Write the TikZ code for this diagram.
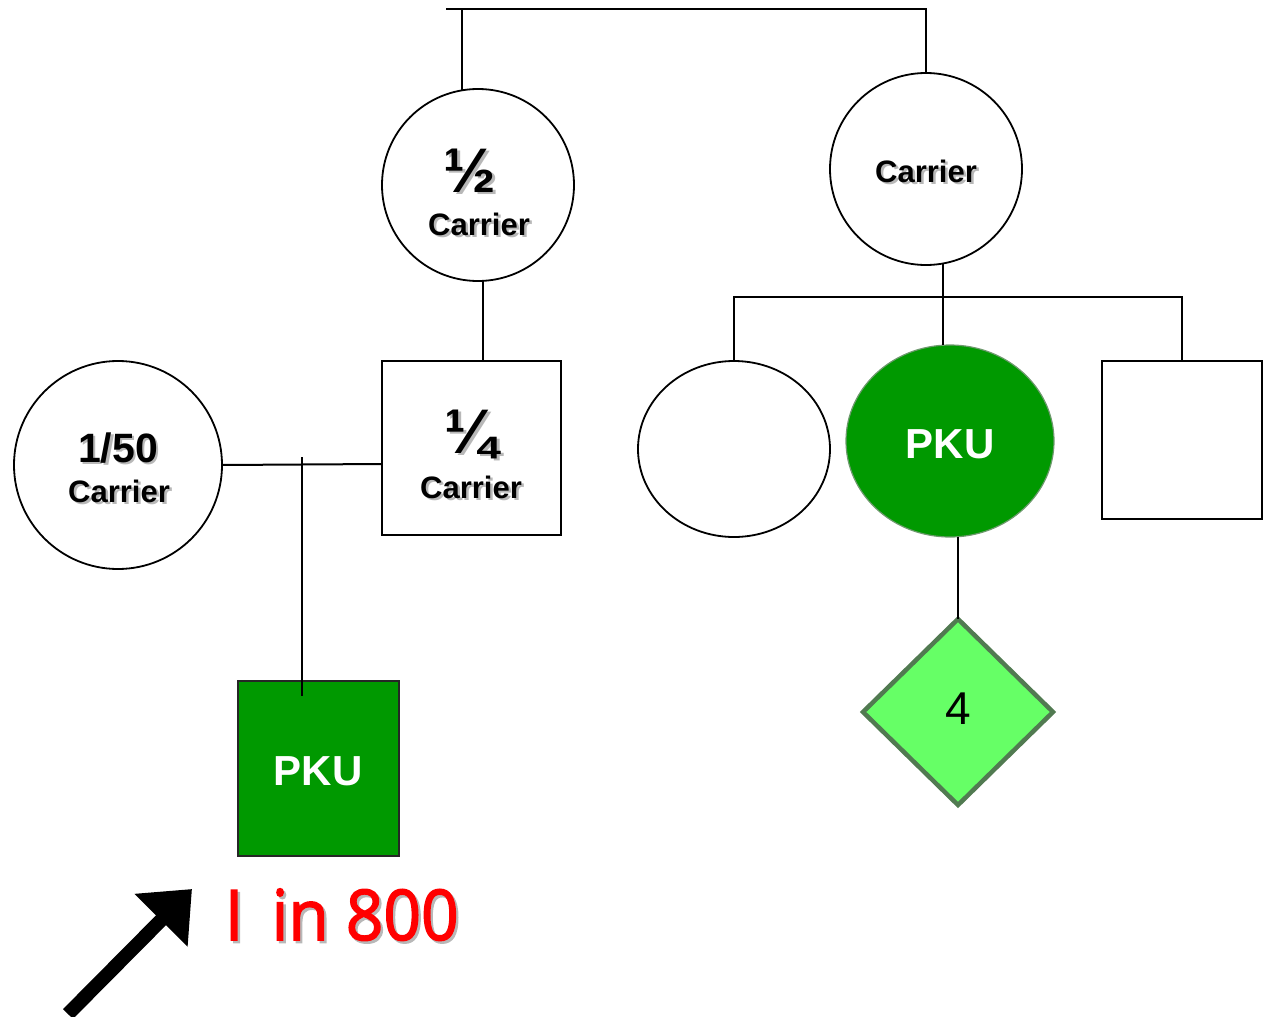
\documentclass[tikz,border=0pt]{standalone}
\usepackage{graphicx}
\usepackage{fontspec}
\setmainfont{Liberation Sans}
\newfontfamily\redfont{Open Sans}[FakeBold=2.2]
\usetikzlibrary{shapes.geometric,arrows.meta}
\definecolor{pkugreen}{HTML}{009900}
\definecolor{litegreen}{HTML}{66FF66}
\definecolor{dmdedge}{HTML}{517A51}
\definecolor{elledge}{HTML}{6E9A6E}
\newcommand\shadowed[1]{\makebox[0pt][l]{\hspace{2.5pt}\raisebox{-2.5pt}{\textcolor{black!28}{#1}}}#1}
\begin{document}
\begin{tikzpicture}[x=1pt,y=-1pt,line width=2pt,
  person/.style={draw=black,fill=white,inner sep=0pt,outer sep=0pt,line width=1.8pt},
  lbl/.style={anchor=base,inner sep=0pt,outer sep=0pt},
  fraclbl/.style={lbl,font=\bfseries\fontsize{63}{63}\selectfont},
  carrlbl/.style={lbl,font=\bfseries\fontsize{31}{31}\selectfont},
  pkulbl/.style={lbl,text=white,font=\bfseries\fontsize{42}{42}\selectfont}]
\useasboundingbox (0,0) rectangle (1264,1017);
% shapes
\node[person,circle,minimum size=192pt] (half) at (478,185) {};
\node[person,circle,minimum size=192pt] (carr) at (926,169) {};
\node[person,circle,minimum size=208pt] (c50) at (118,465) {};
\node[person,rectangle,minimum width=179pt,minimum height=174pt] (q14) at (471.5,448) {};
\node[person,rectangle,draw=black!85,fill=pkugreen,minimum width=161pt,minimum height=175pt] (pkuS) at (318.5,768.5) {};
\node[person,ellipse,minimum width=192pt,minimum height=176pt] (emptyE) at (734,449) {};
\node[person,ellipse,draw=elledge,line width=1.2pt,fill=pkugreen,minimum width=208pt,minimum height=192pt] (pkuE) at (950,441) {};
\node[person,rectangle,minimum width=160pt,minimum height=158pt] (rsq) at (1182,440) {};
\node[person,diamond,draw=dmdedge,line width=4.5pt,fill=litegreen,minimum width=190pt,minimum height=186pt] (dmd) at (958,712) {};
% labels
\node[fraclbl] (halfnum) at (470,192) {\shadowed{½}};
\node[carrlbl] (halftxt) at (479,235) {\shadowed{Carrier}};
\node[carrlbl] (carrtxt) at (926,182) {\shadowed{Carrier}};
\node[lbl,font=\bfseries\fontsize{41}{41}\selectfont] (c50num) at (118,462) {\shadowed{1/50}};
\node[carrlbl] (c50txt) at (119,502) {\shadowed{Carrier}};
\node[fraclbl] (q14num) at (471,453) {\shadowed{¼}};
\node[carrlbl] (q14txt) at (471,498) {\shadowed{Carrier}};
\node[pkulbl] (pkuEtxt) at (950,458) {PKU};
\node[pkulbl] (pkuStxt) at (318,785) {PKU};
\node[lbl,font=\fontsize{46}{46}\selectfont] (dmdtxt) at (958,724) {4};
\node[anchor=base west,inner sep=0pt,text=red,font=\redfont\fontsize{70}{70}\selectfont] (odds) at (224,940) {\scalebox{0.94}[1]{\shadowed{I\hspace{12pt} in 800}}};
% connectors
\coordinate (topL) at (446,9);
\coordinate (topLv) at (462,9);
\coordinate (topR) at (926,9);
\draw (topL) -- (topR) -- (carr.north);
\draw (topLv) -- (topLv |- half.99.6);
\draw (half.-87.6) -- (half.-87.6 |- q14.north);
\coordinate (mR) at (382,464);
\draw (c50.east) -- (mR);
\coordinate (dT) at (302,457);
\coordinate (dB) at (302,696);
\draw (dT) -- (dB);
\coordinate (sibL) at (734,297);
\coordinate (sibR) at (1182,297);
\draw (carr.-80.4) -- (carr.-80.4 |- pkuE.north);
\draw (emptyE.north) -- (sibL) -- (sibR) -- (rsq.north);
\draw (pkuE.-85.2) -- (pkuE.-85.2 |- dmd.north);
% arrow
\coordinate (arS) at (68,1014);
\coordinate (arT) at (192,889);
\draw[line width=14pt,-{Triangle[length=44pt,width=72pt]}] (arS) -- (arT);
\end{tikzpicture}
\end{document}
